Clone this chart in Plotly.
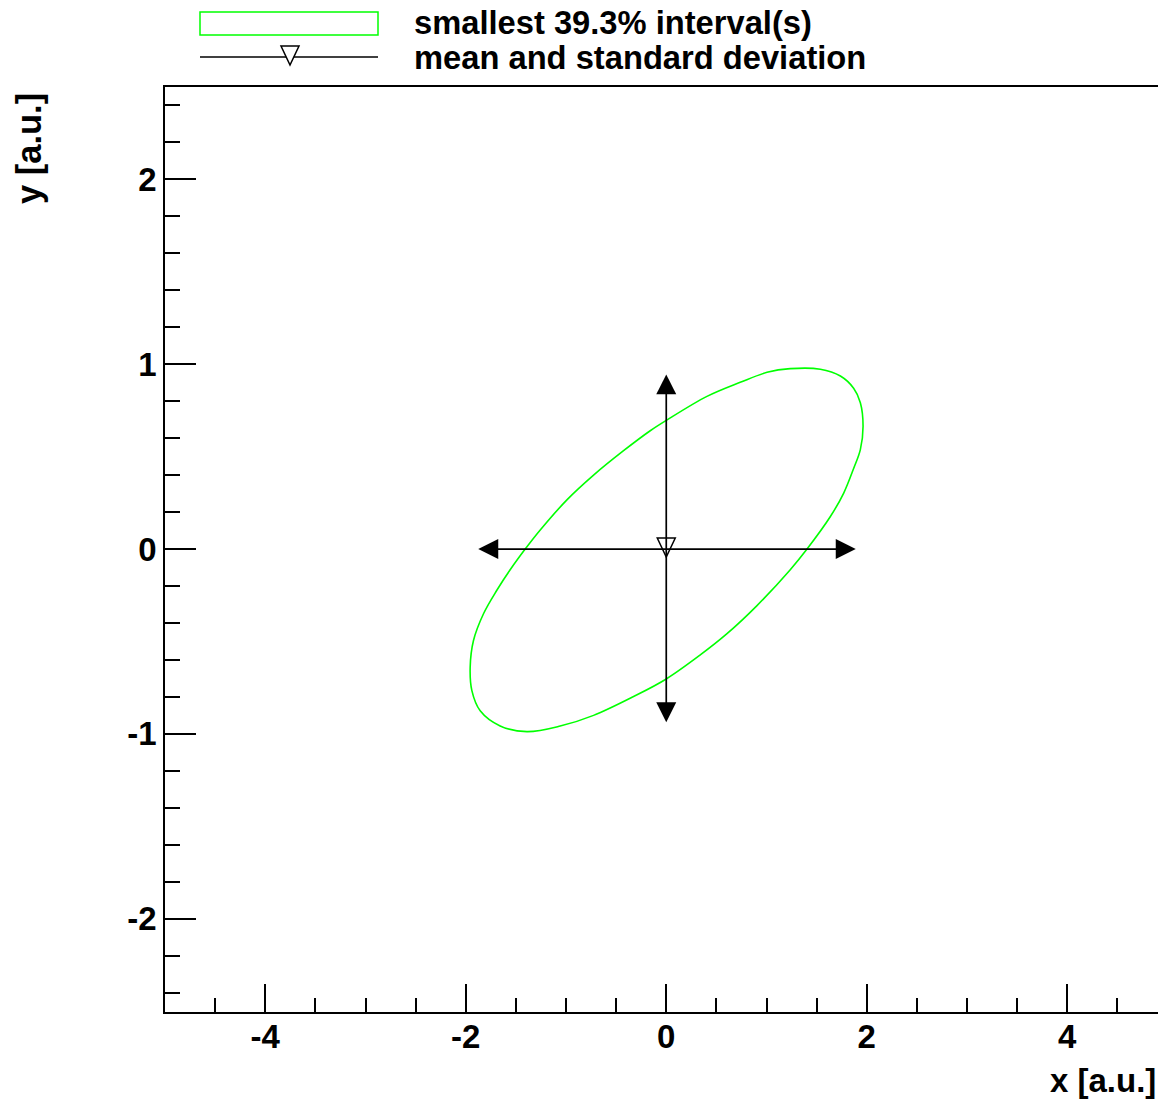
import plotly.graph_objects as go

# Contour of the smallest 39.3% interval, traced clockwise from the top crossing of x = 0
ellipse_x = [0.0, 0.406, 0.738, 1.005, 1.237, 1.537, 1.737, 1.869, 1.936, 1.963,
             1.936, 1.869, 1.770, 1.637, 1.404, 1.237, 0.905, 0.606, 0.339, 0.0,
             -0.326, -0.725, -1.058, -1.390, -1.657, -1.856, -1.939, -1.956, -1.923, -1.823,
             -1.690, -1.557, -1.407, -1.257, -0.991, -0.725, -0.426, -0.160, 0.0]
ellipse_y = [0.696, 0.826, 0.902, 0.956, 0.976, 0.973, 0.936, 0.870, 0.792, 0.665,
             0.538, 0.436, 0.303, 0.176, 0.0, -0.112, -0.306, -0.458, -0.573, -0.703,
             -0.798, -0.900, -0.958, -0.988, -0.957, -0.875, -0.766, -0.640, -0.495, -0.350,
             -0.223, -0.112, 0.0, 0.103, 0.266, 0.400, 0.532, 0.640, 0.696]

# Mean and standard deviation of the marginals
mean_x = 0.0
mean_y = 0.0
std_x = 1.89
std_y = 0.945

x_range = [-5, 4.905]
y_range = [-2.505, 2.5]
x_ticks = [-4, -2, 0, 2, 4]
y_ticks = [-2, -1, 0, 1, 2]

legend_labels = ["smallest 39.3% interval(s)", "mean and standard deviation"]
x_title = "x [a.u.]"
y_title = "y [a.u.]"

# Page geometry
W, H = 1158, 1099
L, R, T, B = 165, 0, 87, 87
plot_w = W - L - R
plot_h = H - T - B


def px(xpix):
    return (xpix - L) / plot_w


def py(ypix):
    return (H - B - ypix) / plot_h


FONT = "Liberation Sans, Arial, Helvetica, sans-serif"
GREEN = "#00ff00"
tick_font = dict(family=FONT, size=33, color="black", weight="bold")

fig = go.Figure()

# Interval contour
fig.add_trace(go.Scatter(
    x=ellipse_x, y=ellipse_y, mode="lines",
    line=dict(color=GREEN, width=1.6, shape="spline", smoothing=1.0),
    showlegend=False, hoverinfo="skip",
))

# Standard-deviation arrows (double-headed)
arrow_common = dict(
    xref="x", yref="y", axref="x", ayref="y", text="", showarrow=True,
    arrowhead=2, startarrowhead=2, arrowside="end+start",
    arrowwidth=1.7, arrowsize=2.35, startarrowsize=2.35, arrowcolor="black",
)
fig.add_annotation(x=mean_x + std_x, y=mean_y, ax=mean_x - std_x, ay=mean_y, **arrow_common)
fig.add_annotation(x=mean_x, y=mean_y + std_y, ax=mean_x, ay=mean_y - std_y, **arrow_common)

# Open downward triangle at the mean
tri_path = "M-9,11 L9,11 L0,-8 Z"
fig.add_shape(type="path", xref="x", yref="y", xsizemode="pixel", ysizemode="pixel",
              xanchor=mean_x, yanchor=mean_y, path=tri_path,
              fillcolor="white", line=dict(color="black", width=1.5), layer="above")

# Legend block above the frame
fig.add_shape(type="rect", xref="paper", yref="paper",
              x0=px(200), x1=px(378), y0=py(35), y1=py(12),
              line=dict(color=GREEN, width=1.5), fillcolor="rgba(0,0,0,0)")
fig.add_shape(type="line", xref="paper", yref="paper",
              x0=px(200), x1=px(378), y0=py(57), y1=py(57),
              line=dict(color="black", width=1.5))
fig.add_shape(type="path", xref="paper", yref="paper", xsizemode="pixel", ysizemode="pixel",
              xanchor=px(290), yanchor=py(57), path=tri_path,
              fillcolor="white", line=dict(color="black", width=1.5))
for label, ypix in zip(legend_labels, [22, 57]):
    fig.add_annotation(x=px(412), y=py(ypix), xref="paper", yref="paper",
                       text=label, showarrow=False, xanchor="left", yanchor="middle",
                       font=dict(family=FONT, size=32.7, color="black", weight="bold"))

# Axis titles, aligned to the axis ends
fig.add_annotation(x=px(1048), y=py(1080), xref="paper", yref="paper",
                   text=x_title, showarrow=False, xanchor="left", yanchor="middle",
                   font=dict(family=FONT, size=33, color="black", weight="bold"))
fig.add_annotation(x=px(29), y=py(149), xref="paper", yref="paper",
                   text=y_title, showarrow=False, xanchor="center", yanchor="middle",
                   textangle=-90,
                   font=dict(family=FONT, size=34.5, color="black", weight="bold"))

fig.update_layout(
    width=W, height=H,
    margin=dict(l=L, r=R, t=T, b=B, pad=0),
    paper_bgcolor="white", plot_bgcolor="white",
    showlegend=False,
    xaxis=dict(
        range=x_range, tickvals=x_ticks, ticktext=[str(v) for v in x_ticks],
        showgrid=False, zeroline=False,
        showline=True, linecolor="black", linewidth=1.5, mirror=True,
        ticks="inside", ticklen=28, tickwidth=1.5, tickcolor="black",
        minor=dict(dtick=0.5, tick0=0, ticks="inside", ticklen=14, tickwidth=1.5,
                   tickcolor="black", showgrid=False),
        tickfont=tick_font, ticklabelstandoff=-5,
    ),
    yaxis=dict(
        range=y_range, tickvals=y_ticks, ticktext=[str(v) for v in y_ticks],
        showgrid=False, zeroline=False,
        showline=True, linecolor="black", linewidth=1.5, mirror=False,
        ticks="inside", ticklen=31, tickwidth=1.5, tickcolor="black",
        minor=dict(dtick=0.2, tick0=0, ticks="inside", ticklen=15, tickwidth=1.5,
                   tickcolor="black", showgrid=False),
        tickfont=tick_font,
    ),
)

fig.write_html("out.html")
